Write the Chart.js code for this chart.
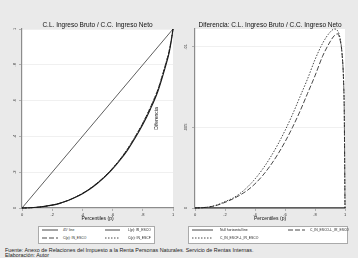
<!DOCTYPE html>
<html>
<head>
<meta charset="utf-8">
<script src="https://cdn.jsdelivr.net/npm/chart.js@4.4.1/dist/chart.umd.min.js"></script>
<style>
  body { margin: 0; background: #eaeaea; width: 358px; height: 258px; overflow: hidden; position: relative;
         font-family: "Liberation Sans", Arial, sans-serif; }
  canvas { position: absolute; top: 0; }
  #leftChart { left: 0; }
  #rightChart { left: 150px; }
  .legend { position: absolute; background: #fff; border: 1px solid #aaa; box-sizing: border-box; }
  .item { position: absolute; font-size: 3.4px; line-height: 4px; color: #222; white-space: nowrap; }
  .item svg { position: absolute; top: 0; }
  .item span { position: absolute; top: 0; }
  .source { position: absolute; left: 5px; top: 248px; font-size: 5.4px; line-height: 5px; color: #222; white-space: nowrap; }
</style>
</head>
<body>
<canvas id="leftChart" width="179" height="225"></canvas>
<canvas id="rightChart" width="208" height="225"></canvas>

<div class="legend" style="left:38px; top:226px; width:117px; height:18px;"></div>
<div id="legLeft"></div>
<div class="legend" style="left:188px; top:226px; width:160px; height:18px;"></div>
<div id="legRight"></div>

<div class="source">Fuente: Anexo de Relaciones del Impuesto a la Renta Personas Naturales. Servicio de Rentas Internas.<br>Elaboración: Autor</div>

<script>
// Percentiles for the Lorenz / concentration curves
const pLorenz = [0, 0.05, 0.1, 0.15, 0.2, 0.25, 0.3, 0.35, 0.4, 0.45, 0.5, 0.55, 0.6, 0.65, 0.7, 0.75, 0.8, 0.85, 0.9, 0.95, 0.975, 0.99, 1];
const lorenzIR = [0, 0.001, 0.004, 0.009, 0.016, 0.026, 0.040, 0.058, 0.080, 0.106, 0.138, 0.175, 0.218, 0.268, 0.325, 0.392, 0.466, 0.552, 0.652, 0.790, 0.870, 0.940, 1];
const concESCO = [0, 0.001, 0.004, 0.009, 0.0164, 0.0266, 0.0408, 0.0591, 0.0815, 0.108, 0.1406, 0.1783, 0.2221, 0.273, 0.331, 0.3991, 0.4742, 0.5614, 0.6623, 0.8008, 0.880, 0.948, 1];
const concESCF = [0, 0.001, 0.0041, 0.0092, 0.0164, 0.0266, 0.0409, 0.0593, 0.0818, 0.1084, 0.1411, 0.1789, 0.2228, 0.2738, 0.3319, 0.400, 0.4752, 0.5622, 0.6629, 0.801, 0.880, 0.948, 1];
const line45 = [0, 1];

// Percentiles for the difference curves
const pDiff = [0, 0.05, 0.1, 0.15, 0.2, 0.25, 0.3, 0.35, 0.4, 0.45, 0.5, 0.55, 0.6, 0.65, 0.7, 0.75, 0.8, 0.85, 0.9, 0.93, 0.95, 0.97, 0.98, 0.99, 0.995, 1];
const diffESCO = [0, 0.00002, 0.00007, 0.00018, 0.00035, 0.00055, 0.0008, 0.0011, 0.0015, 0.002, 0.0026, 0.0033, 0.0041, 0.005, 0.006, 0.0071, 0.0082, 0.0094, 0.0103, 0.0107, 0.0108, 0.0103, 0.0096, 0.0080, 0.006, 0];
const diffESCF = [0, 0.00002, 0.00008, 0.0002, 0.0004, 0.0006, 0.0009, 0.0013, 0.0018, 0.0024, 0.0031, 0.0039, 0.0048, 0.0058, 0.0069, 0.0080, 0.0092, 0.0102, 0.0109, 0.0111, 0.0110, 0.0104, 0.0096, 0.0080, 0.006, 0];
const nullLine = [0, 0];

const xTicks = [0, 0.2, 0.4, 0.6, 0.8, 1];
const yTicksLorenz = [0, 0.2, 0.4, 0.6, 0.8, 1];
const yTicksDiff = [0, 0.005, 0.01];

function pts(xs, ys) {
  return xs.map((x, i) => ({ x: x, y: ys[i] }));
}

// Stata style tick labels: .2 instead of 0.2
function stataLabel(v) {
  return String(+Number(v).toFixed(4)).replace(/^0\./, ".").replace(/^-0\./, "-.");
}

// White plot region
const plotBg = {
  id: "plotBg",
  beforeDraw(chart) {
    const a = chart.chartArea;
    const ctx = chart.ctx;
    ctx.save();
    ctx.fillStyle = "#fff";
    ctx.fillRect(a.left, a.top, a.right - a.left, a.bottom - a.top);
    ctx.restore();
  }
};

// Vertical (rotated) y tick labels
const rotatedYLabels = {
  id: "rotatedYLabels",
  afterDraw(chart, args, opts) {
    const s = chart.scales.y;
    const ctx = chart.ctx;
    ctx.save();
    ctx.font = '4px "Liberation Sans", Arial, sans-serif';
    ctx.fillStyle = "#333";
    ctx.textAlign = "center";
    ctx.textBaseline = "bottom";
    s.ticks.forEach(t => {
      ctx.save();
      ctx.translate(s.right - (opts.gap || 5), s.getPixelForValue(t.value));
      ctx.rotate(-Math.PI / 2);
      ctx.fillText(stataLabel(t.value), 0, 0);
      ctx.restore();
    });
    ctx.restore();
  }
};

function xScale() {
  return {
    type: "linear", min: 0, max: 1,
    afterBuildTicks: s => { s.ticks = xTicks.map(v => ({ value: v })); },
    afterFit: s => { s.height = 17; },
    grid: { drawOnChartArea: false, tickLength: 3, tickColor: "#888", tickWidth: 0.6 },
    border: { color: "#8c8c8c", width: 1.2 },
    ticks: { font: { size: 4 }, color: "#333", padding: 1, maxRotation: 0, callback: v => stataLabel(v) },
    title: { display: true, text: "Percentiles (p)", font: { size: 5 }, color: "#111", padding: { top: 0, bottom: 3 } }
  };
}

function yScale(max, tickList, width, titleText) {
  return {
    type: "linear", min: 0, max: max,
    afterBuildTicks: s => { s.ticks = tickList.map(v => ({ value: v })); },
    afterFit: s => { s.width = width; },
    grid: { color: "#ececec", lineWidth: 0.8, tickLength: 3, tickColor: "#888", tickWidth: 0.6 },
    border: { color: "#8c8c8c", width: 1.2 },
    ticks: { display: false },
    title: titleText
      ? { display: true, text: titleText, font: { size: 5 }, color: "#111", padding: { top: 4, bottom: 0 } }
      : { display: false }
  };
}

function lineSet(label, data, width, dash) {
  return {
    label: label, data: data,
    borderColor: "#1a1a1a", borderWidth: width, borderDash: dash || [],
    pointRadius: 0, fill: false, cubicInterpolationMode: "monotone", clip: false
  };
}

function titleOpts(text) {
  return {
    display: true, text: text, fullSize: false,
    font: { size: 6.5, weight: "normal" }, color: "#111",
    padding: { top: 21, bottom: 0.2 }
  };
}

new Chart(document.getElementById("leftChart"), {
  type: "line",
  data: {
    datasets: [
      lineSet("45° line", pts(line45, line45), 0.7),
      lineSet("L(p): IR_ESCO", pts(pLorenz, lorenzIR), 1.1),
      lineSet("C(p): IN_ESCO", pts(pLorenz, concESCO), 0.8, [5, 2]),
      lineSet("C(p): IN_ESCF", pts(pLorenz, concESCF), 0.8, [1.5, 1.5])
    ]
  },
  options: {
    responsive: false, animation: false, devicePixelRatio: 1,
    layout: { padding: { right: 6, left: 0, bottom: 0 } },
    scales: { x: xScale(), y: yScale(1, yTicksLorenz, 22) },
    plugins: {
      legend: { display: false }, tooltip: { enabled: false },
      title: titleOpts("C.L. Ingreso Bruto / C.C. Ingreso Neto"),
      rotatedYLabels: { gap: 5 }
    }
  },
  plugins: [plotBg, rotatedYLabels]
});

new Chart(document.getElementById("rightChart"), {
  type: "line",
  data: {
    datasets: [
      lineSet("Null horizontal line", pts(line45, nullLine), 0.8),
      lineSet("C_IN_ESCO-L_IR_ESCO", pts(pDiff, diffESCO), 0.8, [5, 2]),
      lineSet("C_IN_ESCF-L_IR_ESCO", pts(pDiff, diffESCF), 0.8, [1.5, 1.5])
    ]
  },
  options: {
    responsive: false, animation: false, devicePixelRatio: 1,
    layout: { padding: { right: 13, left: 0, bottom: 0 } },
    scales: { x: xScale(), y: yScale(0.0111, yTicksDiff, 45, "Diferencia") },
    plugins: {
      legend: { display: false }, tooltip: { enabled: false },
      title: titleOpts("Diferencia: C.L. Ingreso Bruto / C.C. Ingreso Neto"),
      rotatedYLabels: { gap: 7 }
    }
  },
  plugins: [plotBg, rotatedYLabels]
});

// HTML legends (line samples + text)
function legendItem(parent, x, y, len, dash, text, textX) {
  const div = document.createElement("div");
  div.className = "item";
  div.style.left = x + "px";
  div.style.top = (y - 2) + "px";
  div.innerHTML =
    '<svg width="' + len + '" height="4"><line x1="0" y1="2" x2="' + len + '" y2="2" stroke="#1a1a1a" stroke-width="0.8"' +
    (dash ? ' stroke-dasharray="' + dash + '"' : "") + '/></svg>' +
    '<span style="left:' + (textX - x) + 'px">' + text + "</span>";
  parent.appendChild(div);
}

const legL = document.getElementById("legLeft");
legendItem(legL, 42, 230, 16, null, "45° line", 63);
legendItem(legL, 105, 230, 15, null, "L(p): IR_ESCO", 128);
legendItem(legL, 42, 237.5, 16, "5 2", "C(p): IN_ESCO", 63);
legendItem(legL, 105, 237.5, 15, "1.5 1.5", "C(p): IN_ESCF", 128);

const legR = document.getElementById("legRight");
legendItem(legR, 192, 230, 21, null, "Null horizontal line", 220);
legendItem(legR, 288, 230, 17, "5 2", "C_IN_ESCO-L_IR_ESCO", 310);
legendItem(legR, 192, 237.5, 21, "1.5 1.5", "C_IN_ESCF-L_IR_ESCO", 220);
</script>
</body>
</html>
